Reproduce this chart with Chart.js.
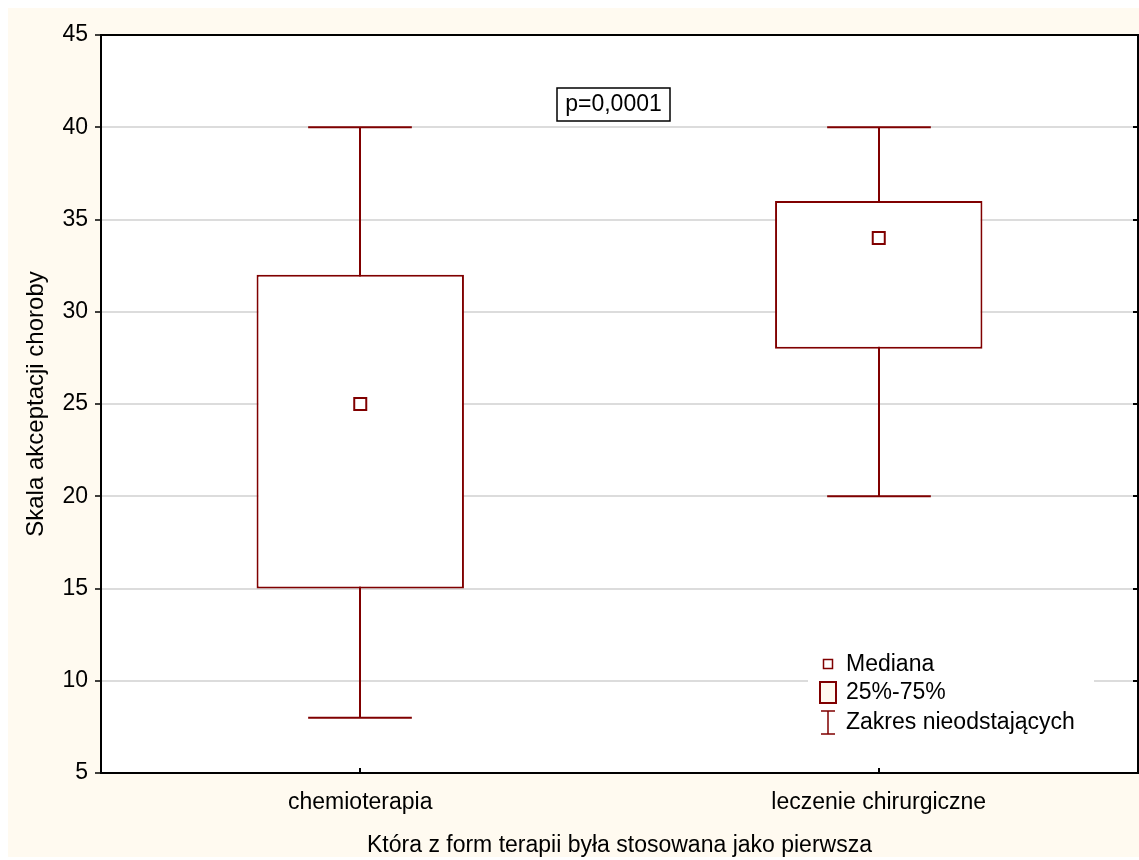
<!DOCTYPE html>
<html>
<head>
<meta charset="utf-8">
<script src="https://cdn.jsdelivr.net/npm/chart.js@4/dist/chart.umd.min.js"></script>
<style>
  html, body { margin: 0; padding: 0; background: #fff; }
</style>
</head>
<body>
<canvas id="boxChart" width="1139" height="860"></canvas>
<script>
// box plot data per therapy group
const categories = ['chemioterapia', 'leczenie chirurgiczne'];
const medians = [25, 34];
const lowerQuartiles = [15, 28];
const upperQuartiles = [32, 36];
const whiskerMins = [8, 20];
const whiskerMaxs = [40, 40];
const yTicks = [5, 10, 15, 20, 25, 30, 35, 40, 45];
const pValueText = 'p=0,0001';
const legendLabels = ['Mediana', '25%-75%', 'Zakres nieodstających'];

const DARK_RED = '#800000';
const PANEL = '#fffaf0';
const FONT = "'Liberation Sans', Arial, sans-serif";
const FONT_SIZE = 23;

Chart.defaults.font.family = FONT;
Chart.defaults.color = '#000';

// whiskers, frame, p-value box and the in-plot legend
const boxPlotExtras = {
    id: 'boxPlotExtras',
    beforeDraw(chart) {
        const { ctx, width, height, chartArea: a } = chart;
        ctx.save();
        ctx.fillStyle = PANEL;
        ctx.fillRect(8, 8, width - 8, height - 11);
        ctx.fillStyle = '#fff';
        ctx.fillRect(a.left, a.top, a.right - a.left, a.bottom - a.top);
        ctx.restore();
    },
    beforeDatasetsDraw(chart) {
        const { ctx, scales: { x, y } } = chart;
        const boxes = chart.getDatasetMeta(1).data;
        ctx.save();
        ctx.strokeStyle = DARK_RED;
        ctx.lineWidth = 2;
        categories.forEach((c, i) => {
            const cx = Math.round(x.getPixelForValue(i));
            const half = boxes[i].width / 4;
            const top = y.getPixelForValue(whiskerMaxs[i]);
            const bot = y.getPixelForValue(whiskerMins[i]);
            ctx.beginPath();
            ctx.moveTo(cx, top); ctx.lineTo(cx, bot);
            ctx.moveTo(cx - half, top); ctx.lineTo(cx + half, top);
            ctx.moveTo(cx - half, bot); ctx.lineTo(cx + half, bot);
            ctx.stroke();
        });
        ctx.restore();
    },
    afterDraw(chart) {
        const { ctx, chartArea: a, scales: { x, y } } = chart;
        ctx.save();

        // frame + inward ticks on right and bottom
        ctx.strokeStyle = '#000';
        ctx.lineWidth = 2;
        ctx.strokeRect(a.left, a.top, a.right - a.left, a.bottom - a.top);
        ctx.beginPath();
        yTicks.forEach(v => {
            const py = Math.round(y.getPixelForValue(v));
            ctx.moveTo(a.right - 5, py); ctx.lineTo(a.right, py);
        });
        categories.forEach((c, i) => {
            const px = Math.round(x.getPixelForValue(i));
            ctx.moveTo(px, a.bottom - 5); ctx.lineTo(px, a.bottom);
        });
        ctx.stroke();

        // p-value label
        ctx.font = FONT_SIZE + 'px ' + FONT;
        ctx.textBaseline = 'middle';
        ctx.textAlign = 'center';
        const pcx = (a.left + a.right) / 2 - 6;
        const pcy = a.top + 69;
        const pw = 113;
        ctx.fillStyle = '#fff';
        ctx.fillRect(pcx - pw / 2, pcy - 16, pw, 33);
        ctx.lineWidth = 1.5;
        ctx.strokeRect(pcx - pw / 2, pcy - 16, pw, 33);
        ctx.fillStyle = '#000';
        ctx.fillText(pValueText, pcx, pcy + 1);

        // legend
        const lx = a.right - 330;
        const ly = a.bottom - 125;
        ctx.fillStyle = '#fff';
        ctx.fillRect(lx, ly, 286, 94);
        const ix = lx + 20;
        const rows = [ly + 16, ly + 44, ly + 74];
        ctx.strokeStyle = DARK_RED;
        ctx.lineWidth = 1.5;
        ctx.strokeRect(ix - 4.5, rows[0] - 4.5, 9, 9);
        ctx.fillStyle = PANEL;
        ctx.lineWidth = 2;
        ctx.fillRect(ix - 8, rows[1] - 10, 16, 21);
        ctx.strokeRect(ix - 8, rows[1] - 10, 16, 21);
        ctx.lineWidth = 1.5;
        ctx.beginPath();
        ctx.moveTo(ix, rows[2] - 11); ctx.lineTo(ix, rows[2] + 12);
        ctx.moveTo(ix - 7, rows[2] - 11); ctx.lineTo(ix + 7, rows[2] - 11);
        ctx.moveTo(ix - 7, rows[2] + 12); ctx.lineTo(ix + 7, rows[2] + 12);
        ctx.stroke();
        ctx.fillStyle = '#000';
        ctx.textAlign = 'left';
        legendLabels.forEach((t, i) => ctx.fillText(t, ix + 18, rows[i] + 1));

        ctx.restore();
    }
};

new Chart(document.getElementById('boxChart'), {
    data: {
        labels: categories,
        datasets: [{
            type: 'line',
            label: 'Mediana',
            data: medians,
            showLine: false,
            pointStyle: 'rect',
            pointRadius: 8.5,
            pointBackgroundColor: '#fff',
            pointBorderColor: DARK_RED,
            pointBorderWidth: 2,
            order: 0
        }, {
            type: 'bar',
            label: '25%-75%',
            data: categories.map((c, i) => [lowerQuartiles[i], upperQuartiles[i]]),
            backgroundColor: '#fff',
            borderColor: DARK_RED,
            borderWidth: 2,
            borderSkipped: false,
            barPercentage: 0.4,
            categoryPercentage: 1,
            order: 1
        }]
    },
    options: {
        responsive: false,
        animation: false,
        devicePixelRatio: 1,
        layout: { autoPadding: false, padding: { left: 8, top: 35, right: 1, bottom: 0 } },
        plugins: { legend: { display: false }, tooltip: { enabled: false } },
        scales: {
            x: {
                grid: { display: false, drawTicks: false },
                border: { display: false },
                ticks: { font: { size: FONT_SIZE }, padding: 16 },
                title: {
                    display: true,
                    text: 'Która z form terapii była stosowana jako pierwsza',
                    font: { size: FONT_SIZE },
                    padding: { top: 0, bottom: 1 }
                },
                afterFit(s) { s.height = 87; }
            },
            y: {
                min: 5,
                max: 45,
                afterBuildTicks(s) { s.ticks = yTicks.map(v => ({ value: v })); },
                grid: { color: '#dcdcdc', lineWidth: 2, tickColor: '#000', tickLength: 6, tickWidth: 1.5 },
                border: { display: false },
                ticks: { font: { size: FONT_SIZE }, padding: 7 },
                title: {
                    display: true,
                    text: 'Skala akceptacji choroby',
                    font: { size: 24 },
                    padding: { top: 14, bottom: 0 }
                },
                afterFit(s) { s.width = 93; }
            }
        }
    },
    plugins: [boxPlotExtras]
});
</script>
</body>
</html>
